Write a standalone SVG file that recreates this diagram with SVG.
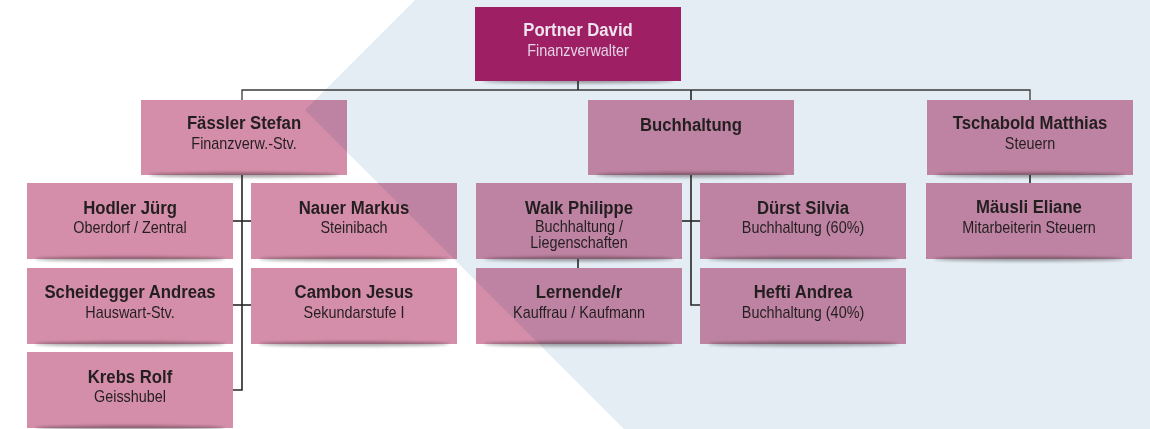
<svg xmlns="http://www.w3.org/2000/svg" width="1150" height="429" viewBox="0 0 1150 429">
<defs>
<filter id="sh" x="-20%" y="-200%" width="140%" height="500%"><feGaussianBlur stdDeviation="1.6"/></filter>
<style>
.box{fill:#D58EA9;mix-blend-mode:multiply}
.top{fill:#9E1F63}
.shd{fill:#2a2a2a;opacity:0.4;filter:url(#sh)}
.n{font-family:"Liberation Sans",Arial,sans-serif;font-weight:bold;font-size:19px;fill:#231F20;text-anchor:middle}
.s{font-family:"Liberation Sans",Arial,sans-serif;font-size:16px;fill:#231F20;text-anchor:middle}
.nw{fill:#EFE4EF}
.sw{fill:#E3D3E6}
.c{fill:none;stroke:#262626;stroke-width:1.6}
</style>
</defs>
<rect width="1150" height="429" fill="#FFFFFF"/>
<polygon points="415,0 1150,0 1150,429 624,429 305,110" fill="#E4ECF4"/>

<g id="connectors">
<polyline class="c" points="242,100 242,90 1030,90 1030,100" style="stroke-width:1.3;stroke:#3a3a3a"/>
<line class="c" x1="578" y1="81" x2="578" y2="90"/>
<line class="c" x1="691" y1="90" x2="691" y2="100"/>
<polyline class="c" points="242,175 242,390 233,390"/>
<line class="c" x1="233" y1="221" x2="251" y2="221"/>
<line class="c" x1="233" y1="305" x2="251" y2="305"/>
<polyline class="c" points="691,175 691,305 700,305"/>
<line class="c" x1="682" y1="221" x2="700" y2="221"/>
<line class="c" x1="578" y1="259" x2="578" y2="268"/>
<line class="c" x1="1030" y1="175" x2="1030" y2="183"/>
</g>

<g id="portner">
<ellipse class="shd" cx="578" cy="81" rx="95" ry="2.5"/>
<rect class="top" x="475" y="7" width="206" height="74"/>
<g transform="translate(578,0) scale(0.88,1)"><text class="n nw" x="0" y="36">Portner David</text></g>
<g transform="translate(578,0) scale(0.9,1)"><text class="s sw" x="0" y="56">Finanzverwalter</text></g>
</g>

<g id="faessler">
<ellipse class="shd" cx="244" cy="175" rx="95" ry="2.5"/>
<rect class="box" x="141" y="100" width="206" height="75"/>
<g transform="translate(244,0) scale(0.88,1)"><text class="n" x="0" y="129.5">Fässler Stefan</text></g>
<g transform="translate(244,0) scale(0.9,1)"><text class="s" x="0" y="149.5">Finanzverw.-Stv.</text></g>
</g>

<g id="buchhaltung">
<ellipse class="shd" cx="691" cy="175" rx="95" ry="2.5"/>
<rect class="box" x="588" y="100" width="206" height="75"/>
<g transform="translate(691,0) scale(0.88,1)"><text class="n" x="0" y="131">Buchhaltung</text></g>
</g>

<g id="tschabold">
<ellipse class="shd" cx="1030" cy="175" rx="95" ry="2.5"/>
<rect class="box" x="927" y="100" width="206" height="75"/>
<g transform="translate(1030,0) scale(0.88,1)"><text class="n" x="0" y="129">Tschabold Matthias</text></g>
<g transform="translate(1030,0) scale(0.9,1)"><text class="s" x="0" y="149">Steuern</text></g>
</g>

<g id="hodler">
<ellipse class="shd" cx="130" cy="259" rx="95" ry="2.5"/>
<rect class="box" x="27" y="183" width="206" height="76"/>
<g transform="translate(130,0) scale(0.88,1)"><text class="n" x="0" y="214">Hodler Jürg</text></g>
<g transform="translate(130,0) scale(0.9,1)"><text class="s" x="0" y="233.5">Oberdorf / Zentral</text></g>
</g>

<g id="nauer">
<ellipse class="shd" cx="354" cy="259" rx="95" ry="2.5"/>
<rect class="box" x="251" y="183" width="206" height="76"/>
<g transform="translate(354,0) scale(0.88,1)"><text class="n" x="0" y="214">Nauer Markus</text></g>
<g transform="translate(354,0) scale(0.9,1)"><text class="s" x="0" y="233.5">Steinibach</text></g>
</g>

<g id="scheidegger">
<ellipse class="shd" cx="130" cy="344" rx="95" ry="2.5"/>
<rect class="box" x="27" y="268" width="206" height="76"/>
<g transform="translate(130,0) scale(0.88,1)"><text class="n" x="0" y="298.5">Scheidegger Andreas</text></g>
<g transform="translate(130,0) scale(0.9,1)"><text class="s" x="0" y="318">Hauswart-Stv.</text></g>
</g>

<g id="cambon">
<ellipse class="shd" cx="354" cy="344" rx="95" ry="2.5"/>
<rect class="box" x="251" y="268" width="206" height="76"/>
<g transform="translate(354,0) scale(0.88,1)"><text class="n" x="0" y="298.5">Cambon Jesus</text></g>
<g transform="translate(354,0) scale(0.9,1)"><text class="s" x="0" y="318">Sekundarstufe I</text></g>
</g>

<g id="krebs">
<ellipse class="shd" cx="130" cy="428" rx="95" ry="2.5"/>
<rect class="box" x="27" y="352" width="206" height="76"/>
<g transform="translate(130,0) scale(0.88,1)"><text class="n" x="0" y="383">Krebs Rolf</text></g>
<g transform="translate(130,0) scale(0.9,1)"><text class="s" x="0" y="402">Geisshubel</text></g>
</g>

<g id="walk">
<ellipse class="shd" cx="579" cy="259" rx="95" ry="2.5"/>
<rect class="box" x="476" y="183" width="206" height="76"/>
<g transform="translate(579,0) scale(0.88,1)"><text class="n" x="0" y="214">Walk Philippe</text></g>
<g transform="translate(579,0) scale(0.9,1)"><text class="s" x="0" y="232.5">Buchhaltung /</text><text class="s" x="0" y="248.5">Liegenschaften</text></g>
</g>

<g id="duerst">
<ellipse class="shd" cx="803" cy="259" rx="95" ry="2.5"/>
<rect class="box" x="700" y="183" width="206" height="76"/>
<g transform="translate(803,0) scale(0.88,1)"><text class="n" x="0" y="214">Dürst Silvia</text></g>
<g transform="translate(803,0) scale(0.9,1)"><text class="s" x="0" y="233.5">Buchhaltung (60%)</text></g>
</g>

<g id="lernende">
<ellipse class="shd" cx="579" cy="344" rx="95" ry="2.5"/>
<rect class="box" x="476" y="268" width="206" height="76"/>
<g transform="translate(579,0) scale(0.88,1)"><text class="n" x="0" y="298.5">Lernende/r</text></g>
<g transform="translate(579,0) scale(0.9,1)"><text class="s" x="0" y="318">Kauffrau / Kaufmann</text></g>
</g>

<g id="hefti">
<ellipse class="shd" cx="803" cy="344" rx="95" ry="2.5"/>
<rect class="box" x="700" y="268" width="206" height="76"/>
<g transform="translate(803,0) scale(0.88,1)"><text class="n" x="0" y="298.5">Hefti Andrea</text></g>
<g transform="translate(803,0) scale(0.9,1)"><text class="s" x="0" y="318">Buchhaltung (40%)</text></g>
</g>

<g id="maeusli">
<ellipse class="shd" cx="1029" cy="259" rx="95" ry="2.5"/>
<rect class="box" x="926" y="183" width="206" height="76"/>
<g transform="translate(1029,0) scale(0.88,1)"><text class="n" x="0" y="213.5">Mäusli Eliane</text></g>
<g transform="translate(1029,0) scale(0.9,1)"><text class="s" x="0" y="233">Mitarbeiterin Steuern</text></g>
</g>
</svg>
